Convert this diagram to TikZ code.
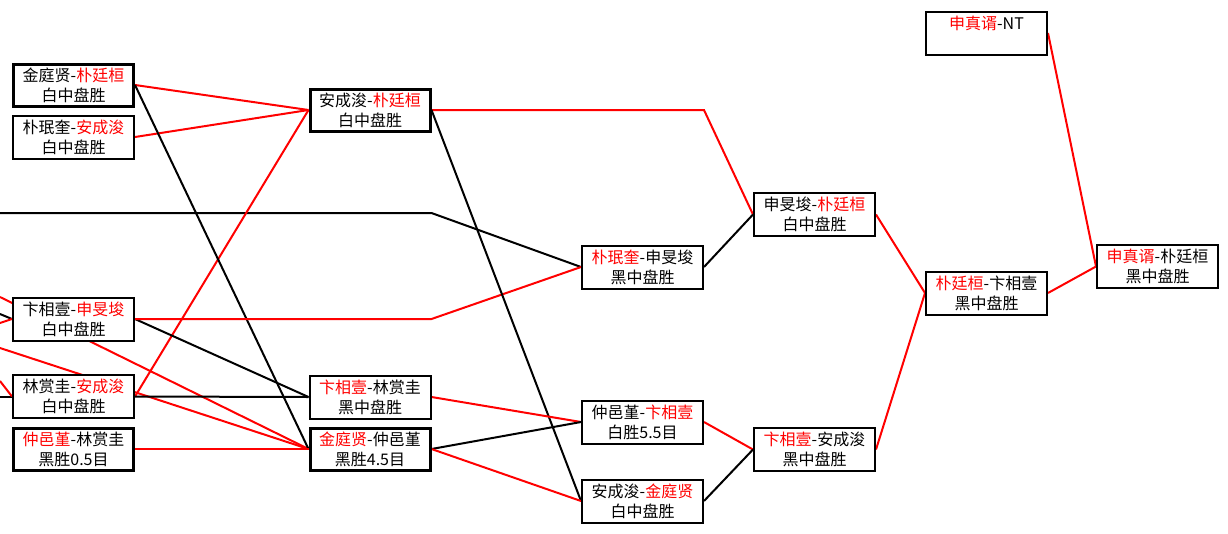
\documentclass[tikz,border=0pt]{standalone}
\usepackage{fontspec}
\setmainfont{Noto Sans CJK SC}
\usetikzlibrary{backgrounds}
\newcommand{\rd}[1]{\textcolor{red}{#1}}
\tikzset{
  box/.style={draw=black, line width=2pt, fill=white, minimum width=121pt, minimum height=43pt,
    inner sep=0pt, align=center, font=\fontsize{16}{20}\selectfont},
  thickbox/.style={box, line width=3pt, minimum width=120pt, minimum height=42pt},
  rline/.style={draw=red, line width=2pt},
  bline/.style={draw=black, line width=2pt}
}
\begin{document}
\begin{tikzpicture}[x=1pt,y=-1pt]
\useasboundingbox (0,0) rectangle (1228,533);
% free ends on the left
\coordinate (L1) at (0,213);
\coordinate (L2) at (0,297);
\coordinate (L3) at (0,348);
\coordinate (L4) at (0,314);
\coordinate (L5) at (0,323);
\coordinate (L6) at (0,396.5);
\coordinate (L7) at (0,381);
\node[thickbox] (A1) at (73.5,85) {金庭贤-\rd{朴廷桓}\\白中盘胜};
\node[box] (A2) at (73.5,137) {朴珉奎-\rd{安成浚}\\白中盘胜};
\node[box] (A3) at (73.5,319) {卞相壹-\rd{申旻埈}\\白中盘胜};
\node[box] (A4) at (73.5,396.5) {林赏圭-\rd{安成浚}\\白中盘胜};
\node[thickbox] (A5) at (73.5,449) {\rd{仲邑堇}-林赏圭\\黑胜0.5目};
\node[thickbox] (B1) at (370,110) {安成浚-\rd{朴廷桓}\\白中盘胜};
\node[box] (B2) at (370,397) {\rd{卞相壹}-林赏圭\\黑中盘胜};
\node[thickbox] (B3) at (370,449) {\rd{金庭贤}-仲邑堇\\黑胜4.5目};
\node[box] (C1) at (642.5,267) {\rd{朴珉奎}-申旻埈\\黑中盘胜};
\node[box] (C2) at (642.5,422) {仲邑堇-\rd{卞相壹}\\白胜5.5目};
\node[box] (C3) at (642.5,501) {安成浚-\rd{金庭贤}\\白中盘胜};
\node[box] (D1) at (814.5,214.5) {申旻埈-\rd{朴廷桓}\\白中盘胜};
\node[box] (D2) at (814.5,449.5) {\rd{卞相壹}-安成浚\\黑中盘胜};
\node[box] (E1) at (986.5,293) {\rd{朴廷桓}-卞相壹\\黑中盘胜};
\node[box] (F) at (986.5,33) {\rd{申真谞}-NT\\\mbox{}};
\node[box] (G) at (1157.5,266.5) {\rd{申真谞}-朴廷桓\\黑中盘胜};
% connectors behind the boxes
\begin{scope}[on background layer]
\fill[white] (0,0) rectangle (1228,533);
\draw[bline] (L1) -- (L1 -| B1.east) -- (C1.west);
\draw[rline] (L2) -- (B3.west);
\draw[rline] (L3) -- (B3.west);
\draw[bline] (L4) -- (A3.west);
\draw[rline] (L5) -- (A3.west);
\draw[bline] (L6) -- (A4.west);
\draw[rline] (L7) -- (A4.west);
\draw[rline] (A1.east) -- (B1.west);
\draw[rline] (A2.east) -- (B1.west);
\draw[rline] (A4.east) -- (B1.west);
\draw[bline] (A1.east) -- (B3.west);
\draw[bline] (A3.east) -- (B2.west);
\draw[rline] (A3.east) -- (A3.east -| B2.east) -- (C1.west);
\draw[bline] (A4.east) -- (B2.west);
\draw[rline] (A5.east) -- (B3.west);
\draw[rline] (B1.east) -- (B1.east -| C1.east) -- (D1.west);
\draw[bline] (B1.east) -- (C3.west);
\draw[rline] (B2.east) -- (C2.west);
\draw[bline] (B3.east) -- (C2.west);
\draw[rline] (B3.east) -- (C3.west);
\draw[bline] (C1.east) -- (D1.west);
\draw[rline] (C2.east) -- (D2.west);
\draw[bline] (C3.east) -- (D2.west);
\draw[rline] (D1.east) -- (E1.west);
\draw[rline] (D2.east) -- (E1.west);
\draw[rline] (E1.east) -- (G.west);
\draw[rline] (F.east) -- (G.west);
\end{scope}
\end{tikzpicture}
\end{document}
